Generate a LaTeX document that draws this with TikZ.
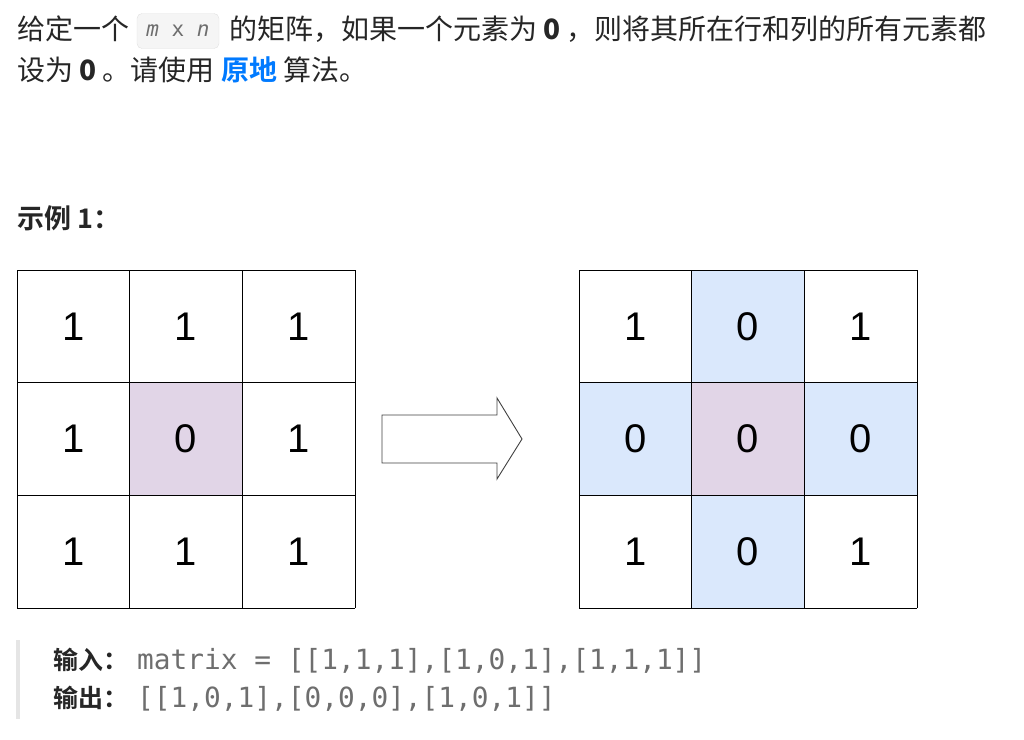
\documentclass[tikz,border=0pt]{standalone}
\usepackage{fontspec}
\setmainfont{Liberation Sans}
\newfontfamily\cjk{Noto Sans CJK SC}
\newfontfamily\cjkb{Noto Sans CJK SC Bold}
\setmonofont{DejaVu Sans Mono}
\definecolor{txt}{HTML}{262626}
\definecolor{codeg}{HTML}{6E6E6E}
\definecolor{lnk}{HTML}{007AFF}
\definecolor{pur}{HTML}{E1D5E7}
\definecolor{blu}{HTML}{DAE8FC}
\begin{document}
\begin{tikzpicture}[x=1pt,y=-1pt,
  lbl/.style={anchor=base west,inner sep=0pt,text=txt,font=\cjk\fontsize{28}{32}\selectfont},
  cellnum/.style={font=\fontsize{40}{44}\selectfont,text=black},
  gridline/.style={draw=black,line width=0.9pt}]
\useasboundingbox (0,0) rectangle (1024,739);
% first paragraph
\node[lbl] (t1) at (17,39) {给定一个};
\node[draw=black!12,fill=black!4,rounded corners=5pt,minimum width=82pt,minimum height=35pt,inner sep=0pt,
  font=\ttfamily\fontsize{21}{24}\selectfont,text=codeg] (code) at (178,31) {\itshape m\upshape{} x \itshape n};
\node[lbl] (t2) at (229,39) {的矩阵，如果一个元素为 {\bfseries 0} ，则将其所在行和列的所有元素都};
\node[lbl] (t3) at (17,80) {设为 {\bfseries 0} 。请使用 {\cjkb\color{lnk}原地} 算法。};
\node[lbl,font=\cjkb\fontsize{27}{32}\selectfont] (ex) at (17,228) {示例 1：};
% grids
\def\cw{112.67}
\fill[pur] (17+\cw,270+\cw) rectangle +(\cw,\cw);
\fill[blu] (579+\cw,270) rectangle +(\cw,3*\cw);
\fill[blu] (579,270+\cw) rectangle +(3*\cw,\cw);
\fill[pur] (579+\cw,270+\cw) rectangle +(\cw,\cw);
\foreach \ox in {17,579}{
  \foreach \i in {0,1,2,3}{
    \draw[gridline] (\ox+\i*\cw,270) -- (\ox+\i*\cw,270+3*\cw);
    \draw[gridline] (\ox,270+\i*\cw) -- (\ox+3*\cw,270+\i*\cw);
  }
}
\foreach \r/\c/\v in {0/0/1,0/1/1,0/2/1,1/0/1,1/1/0,1/2/1,2/0/1,2/1/1,2/2/1}{
  \node[cellnum] (a\r\c) at (17+\c*\cw+0.5*\cw,270+\r*\cw+0.5*\cw) {\v};
}
\foreach \r/\c/\v in {0/0/1,0/1/0,0/2/1,1/0/0,1/1/0,1/2/0,2/0/1,2/1/0,2/2/1}{
  \node[cellnum] (b\r\c) at (579+\c*\cw+0.5*\cw,270+\r*\cw+0.5*\cw) {\v};
}
% arrow
\draw[black!75,line width=0.9pt,fill=white] (382,415) -- (497,415) -- (497,398) -- (522,439) -- (497,479) -- (497,463) -- (382,463) -- cycle;
% code block
\fill[black!10] (16,640) rectangle (20,719);
\node[lbl,font=\cjkb\fontsize{25}{30}\selectfont] (in) at (53,669) {输入：};
\node[anchor=base west,inner sep=0pt,text=codeg,font=\ttfamily\fontsize{27.8}{30}\selectfont] (inv) at (137,669) {matrix = [[1,1,1],[1,0,1],[1,1,1]]};
\node[lbl,font=\cjkb\fontsize{25}{30}\selectfont] (out) at (53,707) {输出：};
\node[anchor=base west,inner sep=0pt,text=codeg,font=\ttfamily\fontsize{27.8}{30}\selectfont] (outv) at (137,707) {[[1,0,1],[0,0,0],[1,0,1]]};
\end{tikzpicture}
\end{document}
